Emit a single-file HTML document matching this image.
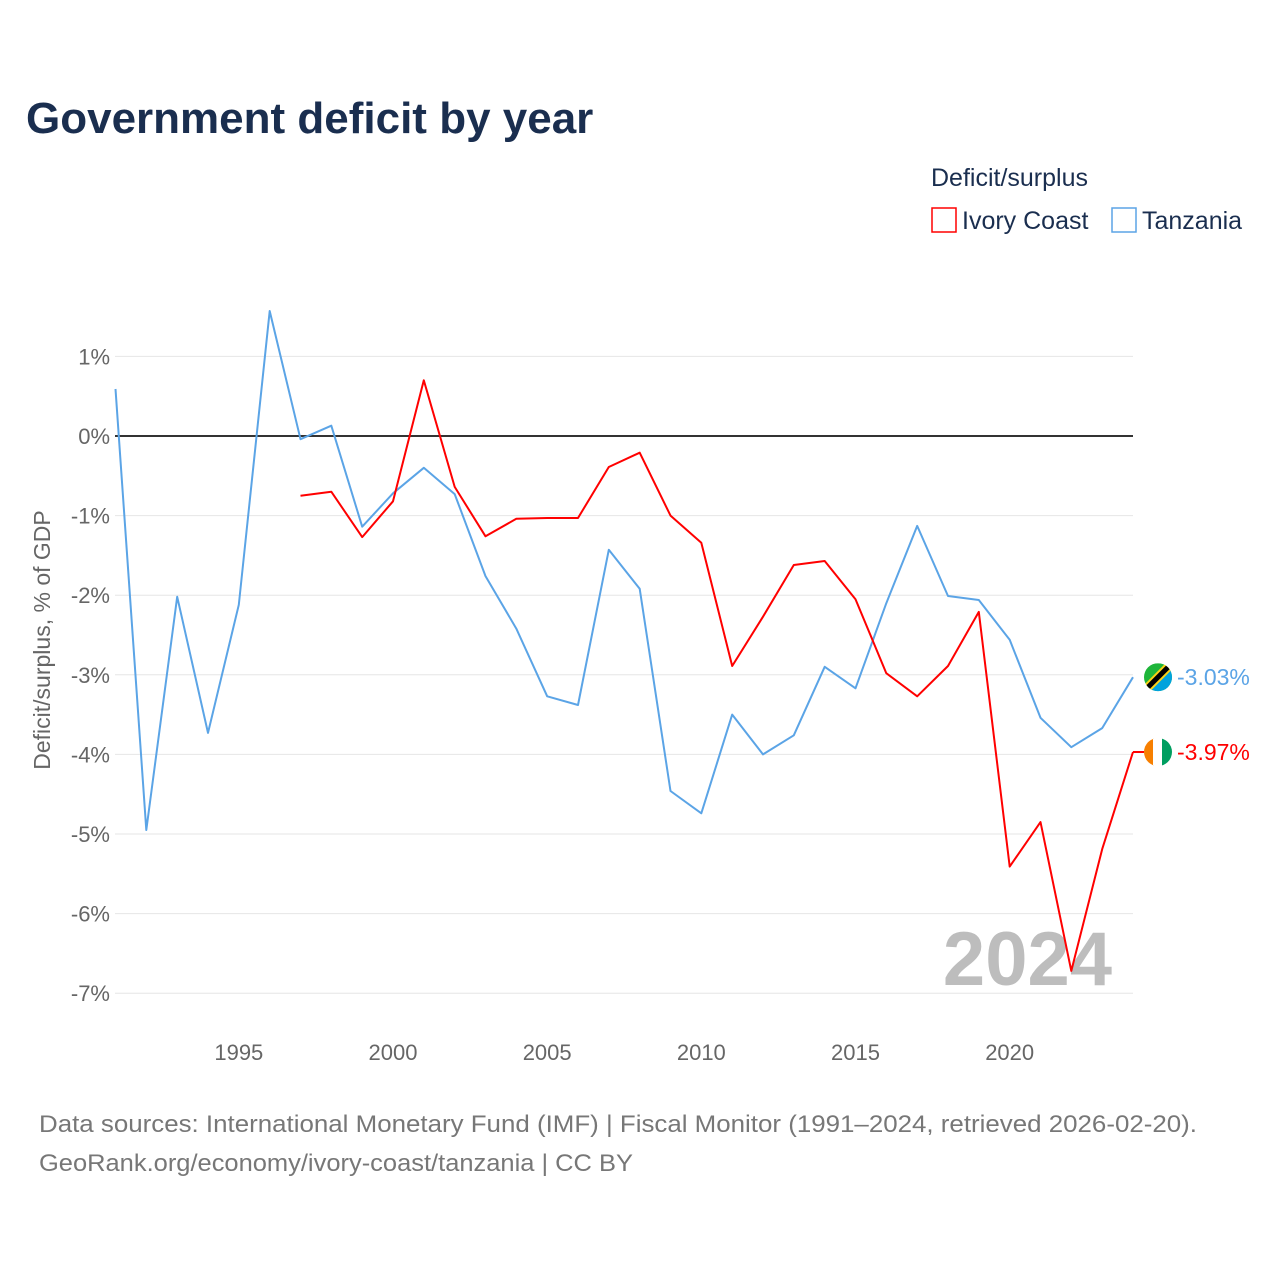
<!DOCTYPE html>
<html><head><meta charset="utf-8">
<style>
body{margin:0;background:#fff;font-family:"Liberation Sans",sans-serif;}
#wrap{position:relative;width:1280px;height:1280px;overflow:hidden;}
</style></head>
<body>
<div id="wrap">
<svg id="chart" width="1280" height="1280" font-family="Liberation Sans, sans-serif"></svg>
</div>
<script>
const years = [];
for (let y = 1991; y <= 2024; y++) years.push(y);
const tanzania = [0.59,-4.95,-2.02,-3.73,-2.12,1.57,-0.04,0.13,-1.14,-0.72,-0.40,-0.73,-1.76,-2.42,-3.27,-3.38,-1.43,-1.92,-4.46,-4.74,-3.50,-4.0,-3.76,-2.90,-3.17,-2.10,-1.13,-2.01,-2.06,-2.56,-3.54,-3.91,-3.67,-3.03];
const ivoryYears = [1997,1998,1999,2000,2001,2002,2003,2004,2005,2006,2007,2008,2009,2010,2011,2012,2013,2014,2015,2016,2017,2018,2019,2020,2021,2022,2023,2024];
const ivoryCoast = [-0.75,-0.70,-1.27,-0.82,0.70,-0.64,-1.26,-1.04,-1.03,-1.03,-0.39,-0.21,-1.0,-1.34,-2.89,-2.27,-1.62,-1.57,-2.05,-2.98,-3.27,-2.89,-2.21,-5.41,-4.85,-6.72,-5.19,-3.97];
const yTicks = [1,0,-1,-2,-3,-4,-5,-6,-7];
const xTicks = [1995,2000,2005,2010,2015,2020];

const svg = document.getElementById('chart');
const NS = 'http://www.w3.org/2000/svg';
const xs = y => 115.5 + (y - 1991) * (1133 - 115.5) / 33;
const ys = v => 436 - v * 79.6;
function mk(tag, attrs, parent) {
  const e = document.createElementNS(NS, tag);
  for (const k in attrs) e.setAttribute(k, attrs[k]);
  (parent || svg).appendChild(e);
  return e;
}
function txt(s, attrs) { const t = mk('text', attrs); t.textContent = s; return t; }

let e;
e = txt('Government deficit by year', {x:26, y:133, 'font-size':44, 'font-weight':'bold', fill:'#1a2e4f'});



e = txt('Deficit/surplus', {x:931, y:186, 'font-size':25, fill:'#1a2e4f'});


e = mk('rect', {x:932, y:208, width:24, height:24, fill:'none', stroke:'#ff0000', 'stroke-width':1.5});


e = txt('Ivory Coast', {x:962, y:229, 'font-size':25, fill:'#1a2e4f'});


e = mk('rect', {x:1112, y:208, width:24, height:24, fill:'none', stroke:'#5ba4e6', 'stroke-width':1.5});


e = txt('Tanzania', {x:1142, y:229, 'font-size':25, fill:'#1a2e4f'});



yTicks.forEach(v => {
  const g = mk('line', {x1:115, x2:1133, y1:ys(v), y2:ys(v), stroke: v===0?'#333':'#e6e6e6', 'stroke-width': v===0?2:1});
  
  
  const t = txt(v + '%', {x:110, y:ys(v)+8, 'font-size':22, fill:'#666', 'text-anchor':'end'});
  
  
});
xTicks.forEach(y => {
  const t = txt(String(y), {x:xs(y), y:1060, 'font-size':22, fill:'#666', 'text-anchor':'middle'});
  
  
});
e = txt('Deficit/surplus, % of GDP', {x:0, y:0, 'font-size':23, fill:'#666', 'text-anchor':'middle', transform:'translate(50,640) rotate(-90)'});



e = txt('2024', {x:1112, y:985, 'font-size':76, 'font-weight':'bold', fill:'#bdbdbd', 'text-anchor':'end'});



function line(xv, yv, color, name) {
  const d = yv.map((v,i) => (i?'L':'M') + xs(xv[i]).toFixed(1) + ',' + ys(v).toFixed(1)).join(' ');
  const p = mk('path', {d:d, fill:'none', stroke:color, 'stroke-width':2, 'stroke-linejoin':'round'});
  
  
}
line(years, tanzania, '#5ba4e6', 'line-tanzania');
line(ivoryYears, ivoryCoast, '#ff0000', 'line-ivory-coast');

const tzV = tanzania[tanzania.length-1], icV = ivoryCoast[ivoryCoast.length-1];
const tzY = ys(tzV), icY = ys(icV), cx = 1158;
const defs = mk('defs', {});
const cp1 = mk('clipPath', {id:'c1'}, defs); mk('circle', {cx:cx, cy:tzY, r:14}, cp1);
const cp2 = mk('clipPath', {id:'c2'}, defs); mk('circle', {cx:cx, cy:icY, r:14}, cp2);
const g1 = mk('g', {'clip-path':'url(#c1)'});


mk('rect', {x:cx-14, y:tzY-14, width:28, height:28, fill:'#1eb53a'}, g1);
mk('polygon', {points:`${cx+14},${tzY-14} ${cx+14},${tzY+14} ${cx-14},${tzY+14}`, fill:'#00a3dd'}, g1);
mk('line', {x1:cx-14, y1:tzY+14, x2:cx+14, y2:tzY-14, stroke:'#fcd116', 'stroke-width':9}, g1);
mk('line', {x1:cx-14, y1:tzY+14, x2:cx+14, y2:tzY-14, stroke:'#000', 'stroke-width':5}, g1);
const g2 = mk('g', {'clip-path':'url(#c2)'});


mk('rect', {x:cx-14, y:icY-14, width:10, height:28, fill:'#f77f00'}, g2);
mk('rect', {x:cx-5, y:icY-14, width:10, height:28, fill:'#fff'}, g2);
mk('rect', {x:cx+4, y:icY-14, width:10, height:28, fill:'#009e60'}, g2);
mk('line', {x1:1133, x2:1144, y1:icY, y2:icY, stroke:'#ff0000', 'stroke-width':2});
e = txt(tzV.toFixed(2) + '%', {x:1177, y:tzY+8, 'font-size':23, fill:'#5ba4e6'});


e = txt(icV.toFixed(2) + '%', {x:1177, y:icY+8, 'font-size':23, fill:'#ff0000'});



e = txt('Data sources: International Monetary Fund (IMF) | Fiscal Monitor (1991–2024, retrieved 2026-02-20).', {x:39, y:1132, 'font-size':24, fill:'#777', textLength:1158, lengthAdjust:'spacingAndGlyphs'});


e = txt('GeoRank.org/economy/ivory-coast/tanzania | CC BY', {x:39, y:1171, 'font-size':24, fill:'#777', textLength:594, lengthAdjust:'spacingAndGlyphs'});


</script>
</body></html>
